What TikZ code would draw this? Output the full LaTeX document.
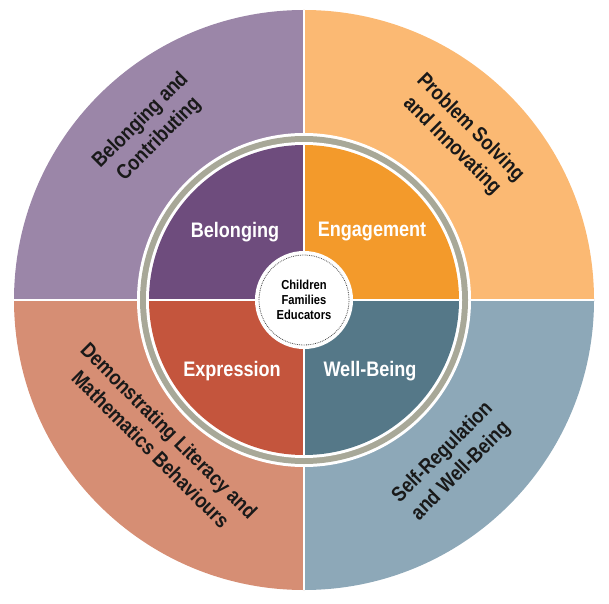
\documentclass[tikz,border=0pt]{standalone}
\usepackage{fontspec}
\setmainfont{Liberation Sans}[FakeStretch=0.86]
\begin{document}
\begin{tikzpicture}[x=1pt,y=1pt,
  outer/.style={font=\bfseries\fontsize{21}{26}\selectfont,text=black!90,align=center},
  inner/.style={font=\bfseries\fontsize{21}{23}\selectfont,text=white},
  ctr/.style={font=\bfseries\fontsize{13}{15}\selectfont,align=center}]
\useasboundingbox (0,0) rectangle (609,603);
\coordinate (c) at (304,303);
\fill[fill={rgb,255:red,155;green,134;blue,168}] (c) -- ++(-290,0) arc[start angle=180,end angle=90,radius=290] -- cycle;
\fill[fill={rgb,255:red,251;green,185;blue,115}] (c) -- ++(0,290) arc[start angle=90,end angle=0,radius=290] -- cycle;
\fill[fill={rgb,255:red,141;green,168;blue,184}] (c) -- ++(290,0) arc[start angle=0,end angle=-90,radius=290] -- cycle;
\fill[fill={rgb,255:red,214;green,142;blue,116}] (c) -- ++(0,-290) arc[start angle=-90,end angle=-180,radius=290] -- cycle;
\draw[white,line width=2.5] (14,303) -- (594,303) (304,13) -- (304,593);
\fill[white] (c) circle[radius=167];
\fill[fill={rgb,255:red,168;green,168;blue,152}] (c) circle[radius=164];
\fill[white] (c) circle[radius=158];
\fill[fill={rgb,255:red,110;green,76;blue,125}] (c) -- ++(-155,0) arc[start angle=180,end angle=90,radius=155] -- cycle;
\fill[fill={rgb,255:red,243;green,154;blue,43}] (c) -- ++(0,155) arc[start angle=90,end angle=0,radius=155] -- cycle;
\fill[fill={rgb,255:red,85;green,120;blue,136}] (c) -- ++(155,0) arc[start angle=0,end angle=-90,radius=155] -- cycle;
\fill[fill={rgb,255:red,196;green,85;blue,61}] (c) -- ++(0,-155) arc[start angle=-90,end angle=-180,radius=155] -- cycle;
\draw[white,line width=2] (149,303) -- (459,303) (304,148) -- (304,458);
\node[circle,fill=white,minimum size=98,inner sep=0] (hub) at (c) {};
\draw[black!70,densely dotted,line width=0.8] (c) circle[radius=45];
\node[ctr] (hubt) at (c) {Children\\Families\\Educators};
\node[inner] (b) at (235,371) {Belonging};
\node[inner] (e) at (372,371) {Engagement};
\node[inner] (x) at (232,232) {Expression};
\node[inner] (w) at (370,232) {Well-Being};
\node[outer,rotate=45] (o1) at (150,473) {Belonging and\\Contributing};
\node[outer,rotate=-45] (o2) at (461,466) {Problem Solving\\and Innovating};
\node[outer,rotate=-45] (o3) at (160,163) {Demonstrating Literacy and\\Mathematics Behaviours};
\node[outer,rotate=45] (o4) at (452,141) {Self-Regulation\\and Well-Being};
\end{tikzpicture}
\end{document}
